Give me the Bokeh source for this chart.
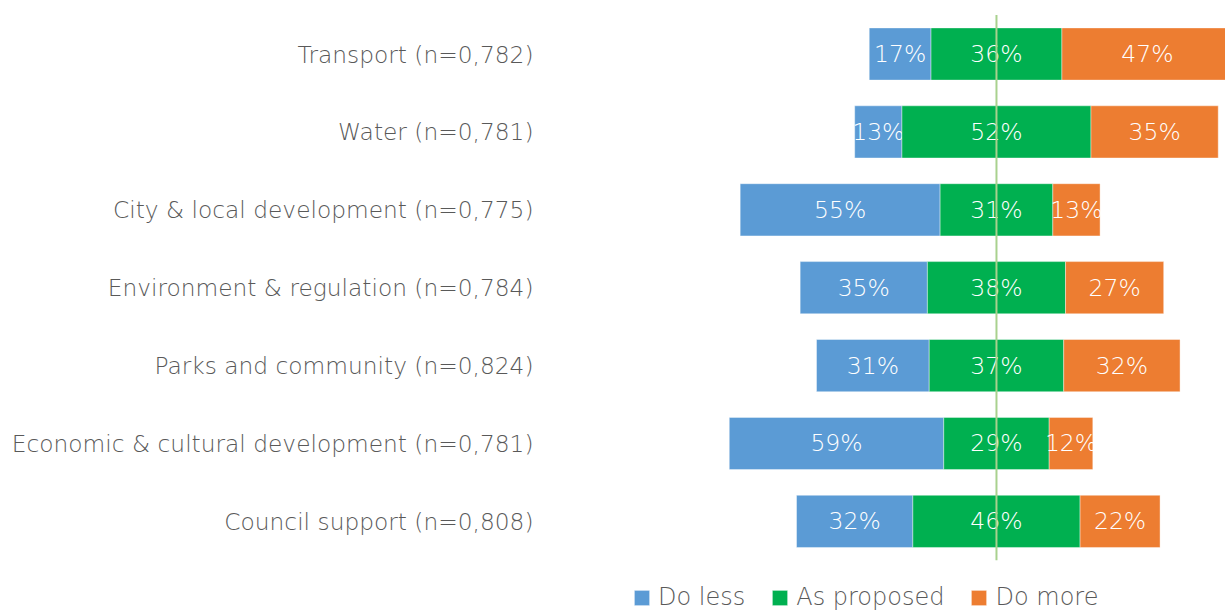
from bokeh.plotting import figure
from bokeh.models import ColumnDataSource, Legend, LegendItem, Range1d, FixedTicker
from bokeh.core.properties import value
from bokeh.embed import file_html
from bokeh.resources import INLINE

categories = ["Transport (n=0,782)", "Water (n=0,781)", "City & local development (n=0,775)",
              "Environment & regulation (n=0,784)", "Parks and community (n=0,824)",
              "Economic & cultural development (n=0,781)", "Council support (n=0,808)"]
do_less = [17, 13, 55, 35, 31, 59, 32]
as_proposed = [36, 52, 31, 38, 37, 29, 46]
do_more = [47, 35, 13, 27, 32, 12, 22]
series_names = ["Do less", "As proposed", "Do more"]
colors = ["#5B9BD5", "#00B050", "#ED7D31"]

FONT_NAME = "DejaVu Sans Light, DejaVu Sans"
FONT = value(FONT_NAME)

n = len(categories)
ypos = [n - 1 - i for i in range(n)]

# diverging: centered on the middle of "As proposed"
left0 = [-(l + p / 2) for l, p in zip(do_less, as_proposed)]
right0 = [-p / 2 for p in as_proposed]
left1 = right0
right1 = [p / 2 for p in as_proposed]
left2 = right1
right2 = [p / 2 + m for p, m in zip(as_proposed, do_more)]

src = ColumnDataSource(dict(
    y=ypos, l0=left0, r0=right0, l1=left1, r1=right1, l2=left2, r2=right2,
    m0=[(a + b) / 2 for a, b in zip(left0, right0)],
    m1=[(a + b) / 2 for a, b in zip(left1, right1)],
    m2=[(a + b) / 2 for a, b in zip(left2, right2)],
    t0=[f"{v}%" for v in do_less], t1=[f"{v}%" for v in as_proposed], t2=[f"{v}%" for v in do_more],
))

p = figure(width=1225, height=610, output_backend="svg", toolbar_location=None,
           y_range=Range1d(-1.144, n - 1 + 0.687),
           x_range=Range1d(-124.6, 63.0), x_axis_location=None,
           min_border_left=543, min_border_right=0, min_border_top=0, min_border_bottom=0)
p.outline_line_color = None
p.grid.visible = False
p.background_fill_color = "white"

renderers = []
for i in range(3):
    r = p.hbar(y="y", left=f"l{i}", right=f"r{i}", height=0.67, source=src,
               fill_color=colors[i], line_color="white", line_width=0.8, line_alpha=0.5)
    renderers.append(r)
    p.text(x=f"m{i}", y="y", text=f"t{i}", source=src, text_color="white",
           text_font=FONT, text_font_size="23.5px", text_align="center", text_baseline="middle")

# centre reference line spanning the category bands
p.segment(x0=[0], y0=[-0.5], x1=[0], y1=[n - 0.5], line_color="#A9D18E", line_width=2)

yax = p.yaxis[0]
yax.ticker = FixedTicker(ticks=ypos, minor_ticks=[])
yax.major_label_overrides = {y: c for y, c in zip(ypos, categories)}
yax.axis_line_color = None
yax.major_tick_line_color = None
yax.minor_tick_line_color = None
yax.major_tick_out = 0
yax.major_tick_in = 0
yax.major_label_standoff = 10
yax.major_label_text_font = FONT_NAME
yax.major_label_text_font_size = "23.3px"
yax.major_label_text_color = "#595959"

legend = Legend(items=[LegendItem(label=s, renderers=[r]) for s, r in zip(series_names, renderers)],
                orientation="horizontal", location=(89, -1), margin=0, padding=0,
                border_line_color=None, background_fill_alpha=0,
                glyph_width=19, glyph_height=19, label_standoff=7, spacing=25,
                label_text_font=FONT_NAME, label_text_font_size="24px", label_text_color="#595959")
p.add_layout(legend, "center")

open("out.html", "w").write(file_html(p, INLINE))
